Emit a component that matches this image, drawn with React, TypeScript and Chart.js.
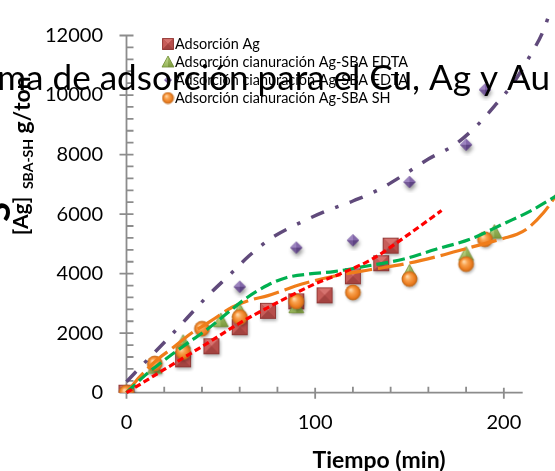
import React, { useEffect, useRef } from 'react';
import { Chart, registerables } from 'chart.js';

Chart.register(...registerables);

const FONT = 'Lato, "Open Sans", "DejaVu Sans", sans-serif';

// ---- Data ----
const agTime = [0, 30, 45, 60, 75, 90, 105, 120, 135, 140];
const agValue = [0, 1120, 1560, 2200, 2750, 3070, 3270, 3910, 4350, 4940];

const edtaTime = [0, 15, 30, 50, 60, 90, 150, 180, 195];
const edtaValue = [0, 860, 1700, 2430, 2750, 2900, 4060, 4660, 5400];

const edta2Time = [0, 60, 90, 120, 150, 180, 190];
const edta2Value = [0, 3560, 4875, 5120, 7080, 8330, 10180];

const shTime = [0, 15, 30, 40, 60, 90, 120, 150, 180, 190];
const shValue = [0, 980, 1370, 2150, 2540, 3070, 3370, 3820, 4320, 5155];

// trendlines
const agTrendTime = [0, 20, 40, 60, 80, 100, 115, 130, 148, 167];
const agTrendValue = [0, 780, 1550, 2340, 3030, 3660, 4040, 4480, 5250, 6120];

const edtaTrendTime = [0, 10, 20, 32, 42, 52, 64, 75, 85, 97, 110, 124, 147, 164, 182, 200, 214, 228];
const edtaTrendValue = [0, 590, 1090, 1650, 2090, 2600, 3200, 3620, 3870, 3990, 4070, 4220, 4490, 4820, 5155, 5680, 6100, 6620];

const edta2TrendTime = [0, 11, 22, 32, 43, 55, 65, 77, 90, 105, 120, 134, 147, 160, 174, 186, 196, 205, 214, 221, 225];
const edta2TrendValue = [370, 1100, 1820, 2500, 3250, 3980, 4600, 5200, 5650, 6080, 6440, 6830, 7320, 7850, 8330, 8990, 9700, 10400, 11330, 12170, 12900];

const shTrendTime = [0, 7, 17, 24, 34, 45, 56, 65, 75, 93, 111, 129, 147, 164, 182, 200, 207, 212, 221, 228];
const shTrendValue = [0, 530, 1150, 1480, 1980, 2420, 2870, 3100, 3262, 3650, 3930, 4130, 4320, 4565, 4875, 5188, 5322, 5490, 6044, 6650];

const xMin = 0;
const xMax = 210;
const xTickValues = [0, 100, 200];
const yMin = 0;
const yMax = 12000;
const legendLabels = [
  'Adsorción Ag',
  'Adsorción cianuración Ag-SBA EDTA',
  'Adsorción cianuración Ag-SBA EDTA',
  'Adsorción cianuración Ag-SBA SH',
];
const chartTitle = 'Isoterma de adsorción para el Cu, Ag y Au';
const chartTitleVisible = 'ma de adsorción para el Cu, Ag y Au';
const xAxisTitle = 'Tiempo (min)';

type Kind = 'square' | 'triangle' | 'diamond' | 'circle';

function makeMarker(kind: Kind, size: number, shadow: boolean): HTMLCanvasElement {
  const pad = shadow ? 5 : 1;
  const dim = Math.ceil(size) + pad * 2;
  const c = document.createElement('canvas');
  c.width = dim;
  c.height = dim;
  const g = c.getContext('2d') as CanvasRenderingContext2D;
  const cx = dim / 2, cy = dim / 2, r = size / 2;
  const setShadow = (on: boolean, strong = false) => {
    if (on && shadow) {
      g.shadowColor = strong ? 'rgba(0,0,0,0.45)' : 'rgba(0,0,0,0.3)';
      g.shadowBlur = strong ? 4 : 3;
      g.shadowOffsetX = 1;
      g.shadowOffsetY = strong ? 3 : 2;
    } else {
      g.shadowColor = 'rgba(0,0,0,0)';
      g.shadowBlur = 0;
      g.shadowOffsetX = 0;
      g.shadowOffsetY = 0;
    }
  };
  const poly = (pts: number[][], fill: string | CanvasGradient) => {
    g.beginPath();
    pts.forEach(([px, py], i) => (i ? g.lineTo(px, py) : g.moveTo(px, py)));
    g.closePath();
    g.fillStyle = fill;
    g.fill();
  };
  if (kind === 'square') {
    const x0 = cx - r, y0 = cy - r, x1 = cx + r, y1 = cy + r;
    setShadow(true);
    poly([[x0, y0], [x1, y0], [x1, y1], [x0, y1]], '#A64441');
    setShadow(false);
    poly([[x0, y0], [x1, y0], [cx, cy]], '#D6736F');
    poly([[x0, y0], [cx, cy], [x0, y1]], '#C65D59');
    poly([[x1, y0], [x1, y1], [cx, cy]], '#B64E4B');
    poly([[x0, y1], [x1, y1], [cx, cy]], '#A34340');
    g.strokeStyle = '#8A3532';
    g.lineWidth = 0.8;
    g.strokeRect(x0 + 0.4, y0 + 0.4, size - 0.8, size - 0.8);
  } else if (kind === 'triangle') {
    const top = cy - r, bot = cy + r * 0.85;
    setShadow(true);
    poly([[cx, top], [cx + r, bot], [cx - r, bot]], '#87A547');
    setShadow(false);
    const gl = g.createLinearGradient(0, top, 0, bot);
    gl.addColorStop(0, '#C9DE96');
    gl.addColorStop(1, '#93B256');
    poly([[cx, top], [cx, bot], [cx - r, bot]], gl);
    const gr = g.createLinearGradient(0, top, 0, bot);
    gr.addColorStop(0, '#A9C66E');
    gr.addColorStop(1, '#7A973C');
    poly([[cx, top], [cx + r, bot], [cx, bot]], gr);
    g.beginPath();
    g.moveTo(cx, top); g.lineTo(cx + r, bot); g.lineTo(cx - r, bot); g.closePath();
    g.strokeStyle = '#6E8B35';
    g.lineWidth = 0.7;
    g.stroke();
  } else if (kind === 'diamond') {
    setShadow(true, true);
    poly([[cx, cy - r], [cx + r, cy], [cx, cy + r], [cx - r, cy]], '#6A4F90');
    setShadow(false);
    poly([[cx, cy - r], [cx, cy], [cx - r, cy]], '#9C84BF');
    poly([[cx, cy - r], [cx + r, cy], [cx, cy]], '#8367AA');
    poly([[cx - r, cy], [cx, cy], [cx, cy + r]], '#735896');
    poly([[cx, cy], [cx + r, cy], [cx, cy + r]], '#5E4483');
  } else {
    setShadow(true);
    g.beginPath();
    g.arc(cx, cy, r, 0, Math.PI * 2);
    g.fillStyle = '#D9741F';
    g.fill();
    setShadow(false);
    const rg = g.createRadialGradient(cx - r * 0.3, cy - r * 0.35, r * 0.08, cx, cy, r);
    rg.addColorStop(0, '#FFD7A6');
    rg.addColorStop(0.35, '#F9A24F');
    rg.addColorStop(0.8, '#EA7B1E');
    rg.addColorStop(1, '#C06418');
    g.beginPath();
    g.arc(cx, cy, r, 0, Math.PI * 2);
    g.fillStyle = rg;
    g.fill();
    g.strokeStyle = '#C8701F';
    g.lineWidth = 0.8;
    g.stroke();
  }
  return c;
}

function fitSize(ctx: CanvasRenderingContext2D, text: string, target: number, weight: string): number {
  ctx.font = `${weight} 100px ${FONT}`;
  const w = ctx.measureText(text).width;
  return (100 * target) / w;
}

function toPoints(xs: number[], ys: number[]) {
  return xs.map((x, i) => ({ x, y: ys[i] }));
}

export default function App() {
  const ref = useRef<HTMLCanvasElement | null>(null);

  useEffect(() => {
    const canvas = ref.current;
    if (!canvas) return;

    const mSquare = makeMarker('square', 16, true);
    const mTriangle = makeMarker('triangle', 15, true);
    const mDiamond = makeMarker('diamond', 12, true);
    const mCircle = makeMarker('circle', 15, true);
    const legendMarks = [
      makeMarker('square', 11.5, false),
      makeMarker('triangle', 12, false),
      makeMarker('diamond', 7.5, false),
      makeMarker('circle', 11, false),
    ];

    const decor = {
      id: 'decor',
      beforeDatasetsDraw(chart: any) {
        const { ctx } = chart;
        const x = chart.scales.x;
        const y = chart.scales.y;
        const x0 = x.getPixelForValue(xMin);
        const x1 = x.getPixelForValue(xMax);
        const yb = y.getPixelForValue(yMin);
        const yt = y.getPixelForValue(yMax);
        ctx.save();
        ctx.strokeStyle = '#8C8C8C';
        ctx.lineWidth = 1.8;
        ctx.beginPath();
        ctx.moveTo(x0, yt);
        ctx.lineTo(x0, yb);
        ctx.moveTo(x0, yb);
        ctx.lineTo(x1, yb);
        for (let v = yMin; v <= yMax; v += 400) {
          const py = y.getPixelForValue(v);
          if (v % 2000 === 0) {
            ctx.moveTo(x0 - 7, py);
            ctx.lineTo(x0 + 7, py);
          } else {
            ctx.moveTo(x0, py);
            ctx.lineTo(x0 + 7, py);
          }
        }
        for (let v = xMin; v <= xMax; v += 20) {
          const px = x.getPixelForValue(v);
          if (v % 100 === 0) {
            ctx.moveTo(px, yb - 5);
            ctx.lineTo(px, yb + 6);
          } else {
            ctx.moveTo(px, yb - 6);
            ctx.lineTo(px, yb);
          }
        }
        ctx.stroke();
        ctx.restore();
      },
      afterDraw(chart: any) {
        const { ctx } = chart;
        ctx.save();
        ctx.fillStyle = '#000';

        // legend
        const legSize = fitSize(ctx, legendLabels[1], 233, 'normal');
        ctx.font = `normal ${legSize}px ${FONT}`;
        ctx.textAlign = 'left';
        ctx.textBaseline = 'middle';
        const rows = [44, 62, 80, 98];
        legendLabels.forEach((t, i) => {
          const m = legendMarks[i];
          ctx.drawImage(m, 168 - m.width / 2, rows[i] - m.height / 2);
          ctx.fillText(t, 175, rows[i] + 0.5);
        });

        // y axis title pieces (rotated)
        const rot = (text: string, font: string, bx: number, cy: number) => {
          ctx.save();
          ctx.translate(bx, cy);
          ctx.rotate(-Math.PI / 2);
          ctx.font = font;
          ctx.textAlign = 'center';
          ctx.textBaseline = 'alphabetic';
          ctx.fillText(text, 0, 0);
          ctx.restore();
        };
        rot('S', `bold 36px ${FONT}`, 10, 212);
        rot('[Ag]', `bold 21px ${FONT}`, 28, 216);
        rot('SBA-SH', `bold 14px ${FONT}`, 33, 164);
        rot('g/ton', `bold 23px ${FONT}`, 30, 105);

        // x axis title
        const xs = fitSize(ctx, xAxisTitle, 133, 'bold');
        ctx.font = `bold ${xs}px ${FONT}`;
        ctx.textAlign = 'center';
        ctx.textBaseline = 'middle';
        ctx.fillText(xAxisTitle, 379, 461);

        // chart title (overflowing the canvas as in the reference)
        const ts = fitSize(ctx, chartTitleVisible, 553, 'normal');
        ctx.font = `normal ${ts}px ${FONT}`;
        ctx.textAlign = 'right';
        ctx.textBaseline = 'alphabetic';
        ctx.fillText(chartTitle, 550, 90);
        ctx.restore();
      },
    };

    const trend = (xs: number[], ys: number[], color: string, dash: number[], width: number, order: number) => ({
      data: toPoints(xs, ys),
      showLine: true,
      borderColor: color,
      borderWidth: width,
      borderDash: dash,
      pointRadius: 0,
      pointHoverRadius: 0,
      tension: 0.4,
      cubicInterpolationMode: 'monotone',
      clip: false,
      order,
    });

    const markers = (xs: number[], ys: number[], img: HTMLCanvasElement, order: number) => ({
      data: toPoints(xs, ys),
      showLine: false,
      pointStyle: img,
      pointRadius: 8,
      pointHoverRadius: 8,
      order,
    });

    const chart = new Chart(canvas, {
      type: 'scatter',
      data: {
        datasets: [
          trend(agTrendTime, agTrendValue, '#FF0000', [6.5, 3.5], 3.2, 0),
          trend(edta2TrendTime, edta2TrendValue, '#604A7B', [14, 12, 3.5, 12], 3.5, 1),
          trend(edtaTrendTime, edtaTrendValue, '#00B050', [12, 5], 3.2, 2),
          trend(shTrendTime, shTrendValue, '#F07D1A', [26, 6], 3.2, 3),
          markers(shTime, shValue, mCircle, 4),
          markers(edta2Time, edta2Value, mDiamond, 5),
          markers(edtaTime, edtaValue, mTriangle, 6),
          markers(agTime, agValue, mSquare, 7),
        ] as any,
      },
      options: {
        responsive: false,
        devicePixelRatio: 1,
        animation: false,
        events: [],
        layout: { padding: { top: 33.3, right: 32.3, left: 0, bottom: 0 } },
        plugins: {
          legend: { display: false },
          title: { display: false },
          tooltip: { enabled: false },
        },
        scales: {
          x: {
            type: 'linear',
            bounds: 'data',
            grid: { display: false, drawTicks: false },
            border: { display: false },
            ticks: {
              color: '#000',
              font: { family: FONT, size: 20 },
              padding: 18,
              maxRotation: 0,
              callback: (v: any) => String(v),
            },
            afterDataLimits: (scale: any) => {
              scale.min = xMin;
              scale.max = xMax;
            },
            afterBuildTicks: (scale: any) => {
              scale.ticks = xTickValues.map((v) => ({ value: v }));
              scale.min = xMin;
              scale.max = xMax;
            },
            afterFit: (scale: any) => {
              scale.height = 471 - 392.7;
            },
          },
          y: {
            type: 'linear',
            min: yMin,
            max: yMax,
            grid: { display: false, drawTicks: false },
            border: { display: false },
            ticks: {
              stepSize: 2000,
              color: '#000',
              font: { family: FONT, size: 20 },
              padding: 23.5,
              callback: (v: any) => String(v),
            },
            afterFit: (scale: any) => {
              scale.width = 126.5;
            },
          },
        },
      } as any,
      plugins: [decor],
    });

    return () => chart.destroy();
  }, []);

  return (
    <canvas
      ref={ref}
      width={555}
      height={471}
      style={{ position: 'absolute', left: 0, top: 0, width: 555, height: 471, display: 'block' }}
    />
  );
}
